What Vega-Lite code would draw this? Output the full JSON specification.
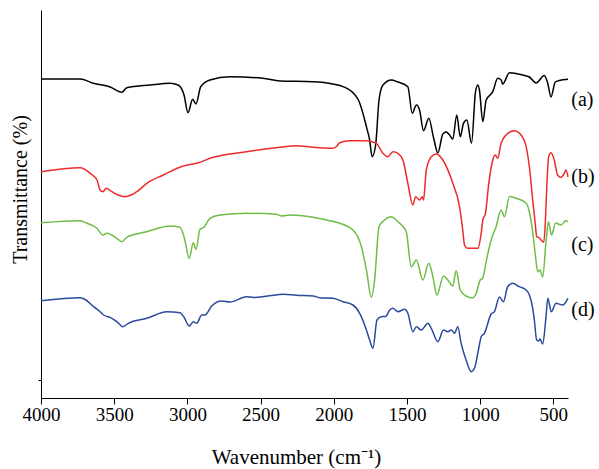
{
  "$schema": "https://vega.github.io/schema/vega-lite/v6.json",
  "width": 527,
  "height": 388,
  "autosize": {"type": "none"},
  "padding": {"left": 41, "top": 10, "right": 31, "bottom": 71},
  "background": "white",
  "config": {"view": {"stroke": null}},
  "datasets": {
    "spectra": [
      {"s":"a","wn":4000,"t":319},{"s":"a","wn":3732,"t":319},{"s":"a","wn":3643,"t":314.7},{"s":"a","wn":3527,"t":311},{"s":"a","wn":3448,"t":305.7},{"s":"a","wn":3414,"t":310.3},{"s":"a","wn":3255,"t":313},{"s":"a","wn":3118,"t":314.7},{"s":"a","wn":3064,"t":313},{"s":"a","wn":3023,"t":303},{"s":"a","wn":2996,"t":285.3},{"s":"a","wn":2964,"t":298.7},{"s":"a","wn":2941,"t":294},{"s":"a","wn":2909,"t":311.3},{"s":"a","wn":2846,"t":318},{"s":"a","wn":2709,"t":321.3},{"s":"a","wn":2484,"t":319.7},{"s":"a","wn":2368,"t":317},{"s":"a","wn":2143,"t":316.3},{"s":"a","wn":2007,"t":314},{"s":"a","wn":1891,"t":308},{"s":"a","wn":1823,"t":295},{"s":"a","wn":1777,"t":271.3},{"s":"a","wn":1755,"t":258},{"s":"a","wn":1738,"t":241.3},{"s":"a","wn":1714,"t":253},{"s":"a","wn":1691,"t":298},{"s":"a","wn":1664,"t":313},{"s":"a","wn":1607,"t":318},{"s":"a","wn":1562,"t":316},{"s":"a","wn":1494,"t":311.3},{"s":"a","wn":1464,"t":284.7},{"s":"a","wn":1436,"t":293},{"s":"a","wn":1414,"t":288},{"s":"a","wn":1387,"t":267.3},{"s":"a","wn":1351,"t":279.7},{"s":"a","wn":1318,"t":260},{"s":"a","wn":1289,"t":245},{"s":"a","wn":1255,"t":264},{"s":"a","wn":1232,"t":266},{"s":"a","wn":1209,"t":263},{"s":"a","wn":1187,"t":259},{"s":"a","wn":1160,"t":283},{"s":"a","wn":1136,"t":261.3},{"s":"a","wn":1114,"t":274.7},{"s":"a","wn":1091,"t":278},{"s":"a","wn":1059,"t":254.7},{"s":"a","wn":1032,"t":306},{"s":"a","wn":1016,"t":313},{"s":"a","wn":1005,"t":308},{"s":"a","wn":982,"t":276.3},{"s":"a","wn":959,"t":298},{"s":"a","wn":914,"t":306.3},{"s":"a","wn":880,"t":319.7},{"s":"a","wn":857,"t":318},{"s":"a","wn":846,"t":314},{"s":"a","wn":800,"t":325.3},{"s":"a","wn":710,"t":323},{"s":"a","wn":664,"t":321},{"s":"a","wn":618,"t":315},{"s":"a","wn":562,"t":322.5},{"s":"a","wn":539,"t":315},{"s":"a","wn":516,"t":301},{"s":"a","wn":487,"t":316},{"s":"a","wn":460,"t":317.5},{"s":"a","wn":400,"t":318.7},
      {"s":"b","wn":4000,"t":226.3},{"s":"b","wn":3732,"t":230.3},{"s":"b","wn":3664,"t":224.7},{"s":"b","wn":3618,"t":218},{"s":"b","wn":3596,"t":208},{"s":"b","wn":3577,"t":206.3},{"s":"b","wn":3555,"t":209.7},{"s":"b","wn":3516,"t":206.3},{"s":"b","wn":3473,"t":203},{"s":"b","wn":3425,"t":201.3},{"s":"b","wn":3384,"t":203},{"s":"b","wn":3345,"t":206.3},{"s":"b","wn":3277,"t":214.7},{"s":"b","wn":3164,"t":223},{"s":"b","wn":3028,"t":232},{"s":"b","wn":2936,"t":234.7},{"s":"b","wn":2823,"t":240.7},{"s":"b","wn":2596,"t":246.3},{"s":"b","wn":2368,"t":250.7},{"s":"b","wn":2255,"t":252.3},{"s":"b","wn":2141,"t":250.7},{"s":"b","wn":2005,"t":249.7},{"s":"b","wn":1982,"t":251.5},{"s":"b","wn":1959,"t":255.3},{"s":"b","wn":1891,"t":257.3},{"s":"b","wn":1777,"t":257.3},{"s":"b","wn":1709,"t":254.7},{"s":"b","wn":1664,"t":244.7},{"s":"b","wn":1630,"t":241.3},{"s":"b","wn":1596,"t":246.3},{"s":"b","wn":1562,"t":244.7},{"s":"b","wn":1528,"t":238},{"s":"b","wn":1494,"t":214.7},{"s":"b","wn":1460,"t":193},{"s":"b","wn":1441,"t":201.3},{"s":"b","wn":1414,"t":198},{"s":"b","wn":1396,"t":201.3},{"s":"b","wn":1387,"t":198},{"s":"b","wn":1368,"t":228},{"s":"b","wn":1334,"t":241.3},{"s":"b","wn":1300,"t":244},{"s":"b","wn":1255,"t":238},{"s":"b","wn":1187,"t":214.7},{"s":"b","wn":1141,"t":191.3},{"s":"b","wn":1119,"t":168},{"s":"b","wn":1107,"t":153},{"s":"b","wn":1085,"t":149.7},{"s":"b","wn":1016,"t":149.7},{"s":"b","wn":993,"t":164.7},{"s":"b","wn":982,"t":178},{"s":"b","wn":964,"t":184.7},{"s":"b","wn":941,"t":214.7},{"s":"b","wn":914,"t":238},{"s":"b","wn":896,"t":243},{"s":"b","wn":880,"t":239.7},{"s":"b","wn":857,"t":254.7},{"s":"b","wn":823,"t":263},{"s":"b","wn":766,"t":267.3},{"s":"b","wn":721,"t":263},{"s":"b","wn":686,"t":251.3},{"s":"b","wn":664,"t":231.3},{"s":"b","wn":641,"t":198},{"s":"b","wn":623,"t":173},{"s":"b","wn":614,"t":161.3},{"s":"b","wn":596,"t":160},{"s":"b","wn":584,"t":158},{"s":"b","wn":566,"t":155.7},{"s":"b","wn":555,"t":174.7},{"s":"b","wn":546,"t":208},{"s":"b","wn":532,"t":241.3},{"s":"b","wn":516,"t":245.3},{"s":"b","wn":494,"t":238},{"s":"b","wn":471,"t":223},{"s":"b","wn":448,"t":220.7},{"s":"b","wn":425,"t":224.7},{"s":"b","wn":414,"t":228},{"s":"b","wn":400,"t":221},
      {"s":"c","wn":4000,"t":175.3},{"s":"c","wn":3732,"t":177.3},{"s":"c","wn":3686,"t":174.7},{"s":"c","wn":3618,"t":169.7},{"s":"c","wn":3577,"t":163},{"s":"c","wn":3550,"t":164.7},{"s":"c","wn":3482,"t":159.7},{"s":"c","wn":3448,"t":156.3},{"s":"c","wn":3414,"t":160.7},{"s":"c","wn":3277,"t":166.3},{"s":"c","wn":3118,"t":172},{"s":"c","wn":3050,"t":170.7},{"s":"c","wn":3023,"t":161.3},{"s":"c","wn":2987,"t":139.7},{"s":"c","wn":2960,"t":155.3},{"s":"c","wn":2941,"t":148.7},{"s":"c","wn":2914,"t":168.7},{"s":"c","wn":2887,"t":170.7},{"s":"c","wn":2846,"t":179.7},{"s":"c","wn":2778,"t":183},{"s":"c","wn":2596,"t":184.7},{"s":"c","wn":2391,"t":183.7},{"s":"c","wn":2357,"t":182},{"s":"c","wn":2300,"t":183},{"s":"c","wn":2141,"t":180.7},{"s":"c","wn":2028,"t":177.3},{"s":"c","wn":1959,"t":174.7},{"s":"c","wn":1869,"t":168},{"s":"c","wn":1811,"t":151.3},{"s":"c","wn":1777,"t":128},{"s":"c","wn":1743,"t":100.7},{"s":"c","wn":1721,"t":118},{"s":"c","wn":1691,"t":171.3},{"s":"c","wn":1653,"t":178},{"s":"c","wn":1607,"t":181.3},{"s":"c","wn":1562,"t":176.3},{"s":"c","wn":1505,"t":166.3},{"s":"c","wn":1471,"t":131.3},{"s":"c","wn":1436,"t":138},{"s":"c","wn":1391,"t":118},{"s":"c","wn":1351,"t":134.7},{"s":"c","wn":1323,"t":121.3},{"s":"c","wn":1296,"t":103},{"s":"c","wn":1250,"t":122},{"s":"c","wn":1221,"t":118},{"s":"c","wn":1187,"t":112},{"s":"c","wn":1164,"t":127.3},{"s":"c","wn":1136,"t":108},{"s":"c","wn":1096,"t":102},{"s":"c","wn":1053,"t":100},{"s":"c","wn":1027,"t":104.7},{"s":"c","wn":1000,"t":118},{"s":"c","wn":982,"t":120},{"s":"c","wn":959,"t":136.3},{"s":"c","wn":925,"t":158},{"s":"c","wn":891,"t":171.3},{"s":"c","wn":857,"t":188},{"s":"c","wn":834,"t":181.3},{"s":"c","wn":800,"t":201.5},{"s":"c","wn":755,"t":199.7},{"s":"c","wn":686,"t":195},{"s":"c","wn":664,"t":186},{"s":"c","wn":641,"t":166},{"s":"c","wn":623,"t":143},{"s":"c","wn":607,"t":126.3},{"s":"c","wn":591,"t":128},{"s":"c","wn":573,"t":121},{"s":"c","wn":550,"t":156.5},{"s":"c","wn":534,"t":176.3},{"s":"c","wn":512,"t":163},{"s":"c","wn":485,"t":175},{"s":"c","wn":448,"t":173},{"s":"c","wn":414,"t":177.3},{"s":"c","wn":400,"t":176.5},
      {"s":"d","wn":4000,"t":97.3},{"s":"d","wn":3732,"t":100.3},{"s":"d","wn":3698,"t":98.5},{"s":"d","wn":3641,"t":91.3},{"s":"d","wn":3596,"t":86.3},{"s":"d","wn":3573,"t":83},{"s":"d","wn":3528,"t":80.7},{"s":"d","wn":3482,"t":76.3},{"s":"d","wn":3441,"t":71.3},{"s":"d","wn":3403,"t":74.7},{"s":"d","wn":3277,"t":79.7},{"s":"d","wn":3141,"t":86.3},{"s":"d","wn":3050,"t":85.3},{"s":"d","wn":3023,"t":80.7},{"s":"d","wn":2987,"t":72},{"s":"d","wn":2960,"t":76.3},{"s":"d","wn":2936,"t":74.7},{"s":"d","wn":2902,"t":83},{"s":"d","wn":2880,"t":83},{"s":"d","wn":2834,"t":92},{"s":"d","wn":2766,"t":97},{"s":"d","wn":2709,"t":96},{"s":"d","wn":2596,"t":101.3},{"s":"d","wn":2550,"t":100.5},{"s":"d","wn":2437,"t":102.3},{"s":"d","wn":2346,"t":103.7},{"s":"d","wn":2255,"t":102.7},{"s":"d","wn":2141,"t":102},{"s":"d","wn":2096,"t":100.3},{"s":"d","wn":2005,"t":99.7},{"s":"d","wn":1937,"t":96.3},{"s":"d","wn":1869,"t":93},{"s":"d","wn":1823,"t":84.7},{"s":"d","wn":1777,"t":68},{"s":"d","wn":1755,"t":58},{"s":"d","wn":1732,"t":49.7},{"s":"d","wn":1705,"t":78},{"s":"d","wn":1675,"t":81.3},{"s":"d","wn":1646,"t":81.5},{"s":"d","wn":1618,"t":88},{"s":"d","wn":1596,"t":89.7},{"s":"d","wn":1562,"t":86.3},{"s":"d","wn":1516,"t":88.7},{"s":"d","wn":1494,"t":84.7},{"s":"d","wn":1460,"t":66.3},{"s":"d","wn":1436,"t":71.3},{"s":"d","wn":1402,"t":68},{"s":"d","wn":1357,"t":74.7},{"s":"d","wn":1334,"t":69.7},{"s":"d","wn":1289,"t":56.3},{"s":"d","wn":1250,"t":68},{"s":"d","wn":1221,"t":66.3},{"s":"d","wn":1198,"t":68},{"s":"d","wn":1175,"t":64.7},{"s":"d","wn":1153,"t":71.3},{"s":"d","wn":1130,"t":54.7},{"s":"d","wn":1096,"t":38},{"s":"d","wn":1061,"t":26.3},{"s":"d","wn":1039,"t":29.7},{"s":"d","wn":1008,"t":51},{"s":"d","wn":993,"t":61.3},{"s":"d","wn":971,"t":64.7},{"s":"d","wn":925,"t":84},{"s":"d","wn":903,"t":86.3},{"s":"d","wn":868,"t":101},{"s":"d","wn":841,"t":96.3},{"s":"d","wn":812,"t":111.3},{"s":"d","wn":778,"t":114.7},{"s":"d","wn":732,"t":111.3},{"s":"d","wn":686,"t":108},{"s":"d","wn":664,"t":103},{"s":"d","wn":641,"t":89.7},{"s":"d","wn":630,"t":78},{"s":"d","wn":614,"t":58},{"s":"d","wn":600,"t":57},{"s":"d","wn":591,"t":59},{"s":"d","wn":573,"t":54},{"s":"d","wn":551,"t":80},{"s":"d","wn":538,"t":99.7},{"s":"d","wn":514,"t":86.3},{"s":"d","wn":482,"t":94.7},{"s":"d","wn":437,"t":93},{"s":"d","wn":400,"t":99.7}
    ],
    "labels": [
      {"s":"a","label":"(a)","wn":378,"t":298},
      {"s":"b","label":"(b)","wn":378,"t":221},
      {"s":"c","label":"(c)","wn":378,"t":153},
      {"s":"d","label":"(d)","wn":378,"t":88}
    ]
  },
  "layer": [
    {
      "data": {"name": "spectra"},
      "mark": {"type": "line", "strokeWidth": 1.5, "interpolate": "monotone"},
      "encoding": {
        "x": {
          "field": "wn", "type": "quantitative",
          "scale": {"domain": [4000, 400], "nice": false, "zero": false},
          "axis": {
            "values": [4000,3750,3500,3250,3000,2750,2500,2250,2000,1750,1500,1250,1000,750,500],
            "format": "d",
            "labelExpr": "datum.value % 500 === 0 ? datum.label : ''",
            "labelFlush": false,
            "labelOverlap": false,
            "labelFont": "Liberation Serif",
            "labelFontSize": 19,
            "labelColor": "black",
            "labelPadding": 1,
            "tickColor": "black",
            "tickWidth": 1,
            "tickSize": {"condition": {"test": "datum.value % 500 === 0", "value": 6}, "value": 3},
            "domainColor": "black",
            "domainWidth": 1,
            "grid": false,
            "title": "Wavenumber (cm⁻¹)",
            "titleFont": "Liberation Serif",
            "titleFontSize": 21,
            "titleFontWeight": "normal",
            "titleColor": "black",
            "titleX": 255,
            "titleY": 65,
            "titleBaseline": "alphabetic",
            "titleAlign": "center"
          }
        },
        "y": {
          "field": "t", "type": "quantitative",
          "scale": {"domain": [0, 388], "nice": false, "zero": false},
          "axis": {
            "values": [18],
            "labels": false,
            "tickSize": 3,
            "tickColor": "black",
            "domainColor": "black",
            "domainWidth": 1,
            "grid": false,
            "title": "Transmittance (%)",
            "titleFont": "Liberation Serif",
            "titleFontSize": 20,
            "titleFontWeight": "normal",
            "titleColor": "black",
            "titleAngle": 270,
            "titleX": -21,
            "titleY": 179,
            "titleAlign": "center",
            "titleBaseline": "middle"
          }
        },
        "color": {
          "field": "s", "type": "nominal",
          "scale": {"domain": ["a","b","c","d"], "range": ["#000000","#ee2b2b","#6dbd46","#2b4a9c"]},
          "legend": null
        }
      }
    },
    {
      "data": {"name": "labels"},
      "mark": {"type": "text", "align": "left", "baseline": "middle", "font": "Liberation Serif", "fontSize": 20, "color": "black"},
      "encoding": {
        "x": {"field": "wn", "type": "quantitative"},
        "y": {"field": "t", "type": "quantitative"},
        "text": {"field": "label"}
      }
    }
  ]
}
